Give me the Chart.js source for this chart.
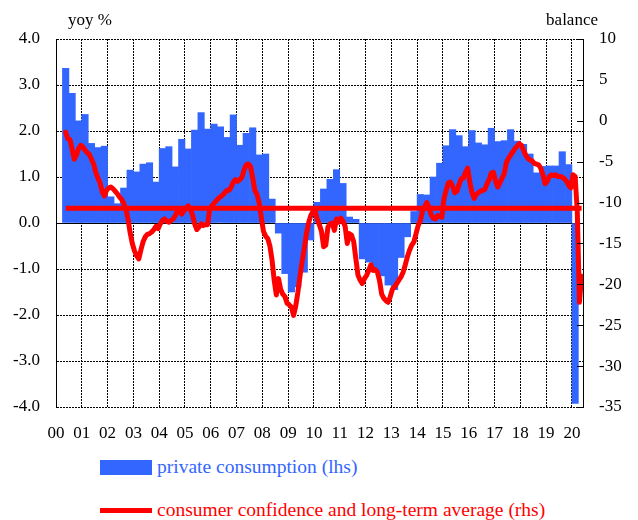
<!DOCTYPE html>
<html>
<head>
<meta charset="utf-8">
<script src="https://cdn.jsdelivr.net/npm/chart.js@4.4.1/dist/chart.umd.min.js"></script>
<style>
    body { margin: 0; background: #fff; }
    #wrap { position: relative; width: 638px; height: 520px; font-family: 'Liberation Serif', 'DejaVu Serif', serif; }
    #chart { position: absolute; left: 0; top: 0; }
    .axis-title { position: absolute; top: 10px; font-size: 17px; color: #000; }
    .item { position: absolute; left: 100px; display: flex; align-items: center; height: 20px; font-size: 19.5px; white-space: nowrap; }
    .swatch { display: inline-block; width: 52px; margin-right: 5px; }
</style>
</head>
<body>
<div id="wrap">
    <canvas id="chart" width="638" height="445"></canvas>
    <div class="axis-title" style="left:68px">yoy %</div>
    <div class="axis-title" style="right:40px">balance</div>
    <div class="item" style="top:457px">
        <span class="swatch" style="height:15px;background:#3366ff"></span>
        <span style="color:#3366ff">private consumption (lhs)</span>
    </div>
    <div class="item" style="top:500px">
        <span class="swatch" style="height:5px;background:#ff0000"></span>
        <span style="color:#ff0000">consumer confidence and long-term average (rhs)</span>
    </div>
</div>
<script>
// Private consumption, yoy %, quarterly from 2000 Q2 to 2020 Q1
const consumptionStart = 2000.25;
const consumption = [
    3.36, 2.82, 2.22,
    2.36, 1.73, 1.64, 1.67,
    0.57, 0.42, 0.76, 1.15,
    1.11, 1.28, 1.31, 0.89,
    1.62, 1.66, 1.22, 1.82,
    1.61, 2.02, 2.40, 2.04,
    2.15, 2.09, 1.86, 2.35,
    1.69, 1.95, 2.07, 1.48,
    1.50, 0.52, -0.22, -1.10,
    -1.50, -1.39, -1.07, -0.37,
    0.45, 0.74, 0.95, 1.16,
    0.86, 0.13, 0.08, -0.78,
    -0.85, -1.00, -1.15, -1.35,
    -1.45, -0.75, -0.30, 0.25,
    0.62, 0.61, 1.00, 1.30,
    1.68, 2.03, 1.90, 1.66,
    2.01, 1.74, 1.70, 2.06,
    1.77, 1.79, 2.03, 1.78,
    1.71, 1.50, 1.09, 1.23,
    1.24, 1.24, 1.55, 1.27,
    -3.92
];

// Consumer confidence, balance, monthly from May 2000 to May 2020
const confidenceStart = 2000 + 4 / 12;
const confidence = [
    -1.4, -2.2, -2.3, -3.5, -4.7, -4.2, -3.4, -3.0,
    -3.2, -3.6, -3.9, -4.1, -4.7, -5.3, -6.3, -7.0, -7.6, -8.7, -9.2, -8.5,
    -8.2, -8.1, -8.3, -8.6, -8.9, -9.3, -9.6, -10.1, -10.8, -12.0, -13.7, -15.0,
    -15.9, -16.5, -16.9, -15.8, -14.8, -14.2, -13.9, -13.8, -13.6, -13.3, -12.9, -13.2,
    -12.6, -12.2, -12.0, -12.3, -12.4, -12.2, -12.0, -11.6, -11.0, -11.1, -11.4, -11.0,
    -10.7, -10.4, -10.8, -11.5, -12.6, -13.3, -13.0, -12.6, -12.8, -12.7, -12.7, -10.8,
    -10.4, -10.1, -9.8, -9.5, -9.3, -9.1, -8.8, -8.5, -8.5, -8.1, -7.5, -7.2,
    -7.4, -7.2, -6.9, -6.0, -5.4, -5.3, -5.6, -7.0, -8.5, -9.0, -10.0, -11.8,
    -13.5, -14.1, -14.4, -15.3, -17.0, -19.5, -21.3, -19.3, -20.6, -21.2, -21.5, -22.3,
    -22.5, -22.8, -23.8, -22.7, -21.0, -19.0, -17.2, -15.6, -13.8, -12.5, -11.6, -11.1,
    -11.0, -12.0, -12.7, -13.5, -15.4, -15.2, -13.0, -12.6, -12.5, -13.4, -12.0, -12.4,
    -11.9, -12.3, -12.9, -15.0, -13.8, -14.0, -14.8, -16.9, -18.9, -19.5, -19.9, -19.3,
    -18.9, -18.3, -17.6, -18.3, -18.2, -18.5, -19.5, -21.2, -21.7, -22.0, -22.2, -21.5,
    -20.6, -20.3, -19.9, -19.5, -19.1, -18.5, -17.6, -16.6, -15.8, -15.2, -14.8, -13.8,
    -12.8, -12.2, -11.0, -10.5, -10.0, -10.6, -11.5, -11.9, -12.0, -11.6, -11.7, -11.8,
    -9.5, -8.5, -7.6, -7.5, -8.0, -8.8, -8.6, -7.8, -7.1, -7.0, -6.3, -5.8,
    -7.5, -8.8, -9.5, -9.0, -8.8, -8.6, -8.5, -8.4, -7.7, -7.2, -6.4, -6.3,
    -7.4, -8.1, -7.6, -7.0, -6.5, -5.1, -4.6, -4.2, -3.8, -3.4, -3.1, -2.8,
    -3.0, -3.6, -4.2, -4.6, -4.8, -4.9, -5.2, -5.3, -5.4, -5.8, -6.6, -7.7,
    -7.4, -6.8, -6.6, -6.7, -6.6, -6.8, -6.8, -6.9, -7.1, -7.4, -7.9, -8.2,
    -6.6, -6.8, -11.1, -22.2, -19.0
];

// Long-term average of consumer confidence
const confidenceAverage = -10.7;

// Axis ranges; year labels run from 00 to 20
const xMin = 2000, xMax = 2020.43;
const yearFirst = 2000, yearLast = 2020;
const lhsMin = -4, lhsMax = 4, lhsStep = 1;
const rhsMin = -35, rhsMax = 10, rhsStep = 5;

const BLUE = '#3366ff';
const RED = '#ff0000';

const barPoints = consumption.map((v, i) => ({ x: consumptionStart + (i + 0.5) / 4, y: v }));
const linePoints = confidence.map((v, i) => ({ x: confidenceStart + (i + 0.5) / 12, y: v }));
const avgPoints = [
    { x: linePoints[0].x, y: confidenceAverage },
    { x: linePoints[linePoints.length - 1].x, y: confidenceAverage }
];

// Zero line on the left axis and small inward ticks on the right axis
const extrasPlugin = {
    id: 'extras',
    beforeDatasetsDraw(chart) {
        const { ctx, chartArea, scales } = chart;
        const y0 = Math.round(scales.y.getPixelForValue(0)) + 0.5;
        ctx.save();
        ctx.strokeStyle = '#000';
        ctx.lineWidth = 1;
        ctx.beginPath();
        ctx.moveTo(chartArea.left, y0);
        ctx.lineTo(chartArea.right, y0);
        ctx.stroke();
        ctx.restore();
    },
    afterDraw(chart) {
        const { ctx, chartArea, scales } = chart;
        const s = scales.y2;
        ctx.save();
        ctx.strokeStyle = '#000';
        ctx.lineWidth = 1;
        ctx.beginPath();
        s.ticks.forEach((t, i) => {
            const y = Math.round(s.getPixelForTick(i)) + 0.5;
            ctx.moveTo(chartArea.right - 6, y);
            ctx.lineTo(chartArea.right, y);
        });
        ctx.stroke();
        ctx.restore();
    }
};

Chart.defaults.font.family = "'Liberation Serif', 'DejaVu Serif', serif";
Chart.defaults.font.size = 17;
Chart.defaults.color = '#000';

new Chart(document.getElementById('chart'), {
    type: 'bar',
    data: {
        datasets: [
            {
                type: 'line',
                label: 'consumer confidence',
                data: linePoints,
                yAxisID: 'y2',
                borderColor: RED,
                borderWidth: 5,
                pointRadius: 0,
                tension: 0,
                borderJoinStyle: 'round',
                borderCapStyle: 'round',
                order: 1
            },
            {
                type: 'line',
                label: 'long-term average',
                data: avgPoints,
                yAxisID: 'y2',
                borderColor: RED,
                borderWidth: 5,
                pointRadius: 0,
                order: 2
            },
            {
                type: 'bar',
                label: 'private consumption (lhs)',
                data: barPoints,
                yAxisID: 'y',
                backgroundColor: BLUE,
                borderWidth: 0,
                barPercentage: 1,
                categoryPercentage: 1,
                order: 3
            }
        ]
    },
    options: {
        responsive: false,
        animation: false,
        devicePixelRatio: 1,
        layout: { padding: { top: 39, left: 0, right: 0, bottom: 0 } },
        plugins: {
            legend: { display: false },
            tooltip: { enabled: false }
        },
        scales: {
            x: {
                type: 'linear',
                min: xMin,
                max: xMax,
                offset: false,
                grid: { color: '#000', lineWidth: 1, drawTicks: false, offset: false },
                border: { display: false, dash: [2, 1] },
                ticks: {
                    padding: 16,
                    maxRotation: 0,
                    autoSkip: false,
                    callback: v => String(Math.round(v)).slice(2)
                },
                afterBuildTicks: scale => {
                    const ticks = [];
                    for (let yr = yearFirst; yr <= yearLast; yr++) ticks.push({ value: yr });
                    scale.ticks = ticks;
                },
                afterFit: scale => { scale.height = 38; }
            },
            y: {
                position: 'left',
                min: lhsMin,
                max: lhsMax,
                grid: { color: '#000', lineWidth: 1, drawTicks: false },
                border: { display: true, color: '#000', width: 1, dash: [2, 1] },
                ticks: {
                    stepSize: lhsStep,
                    padding: 16,
                    callback: v => v.toFixed(1)
                },
                afterFit: scale => { scale.width = 56; }
            },
            y2: {
                position: 'right',
                min: rhsMin,
                max: rhsMax,
                grid: { drawOnChartArea: false, drawTicks: false },
                border: { display: true, color: '#000', width: 1 },
                ticks: {
                    stepSize: rhsStep,
                    padding: 16,
                    callback: v => String(v)
                },
                afterFit: scale => { scale.width = 55; }
            }
        }
    },
    plugins: [extrasPlugin]
});
</script>
</body>
</html>
